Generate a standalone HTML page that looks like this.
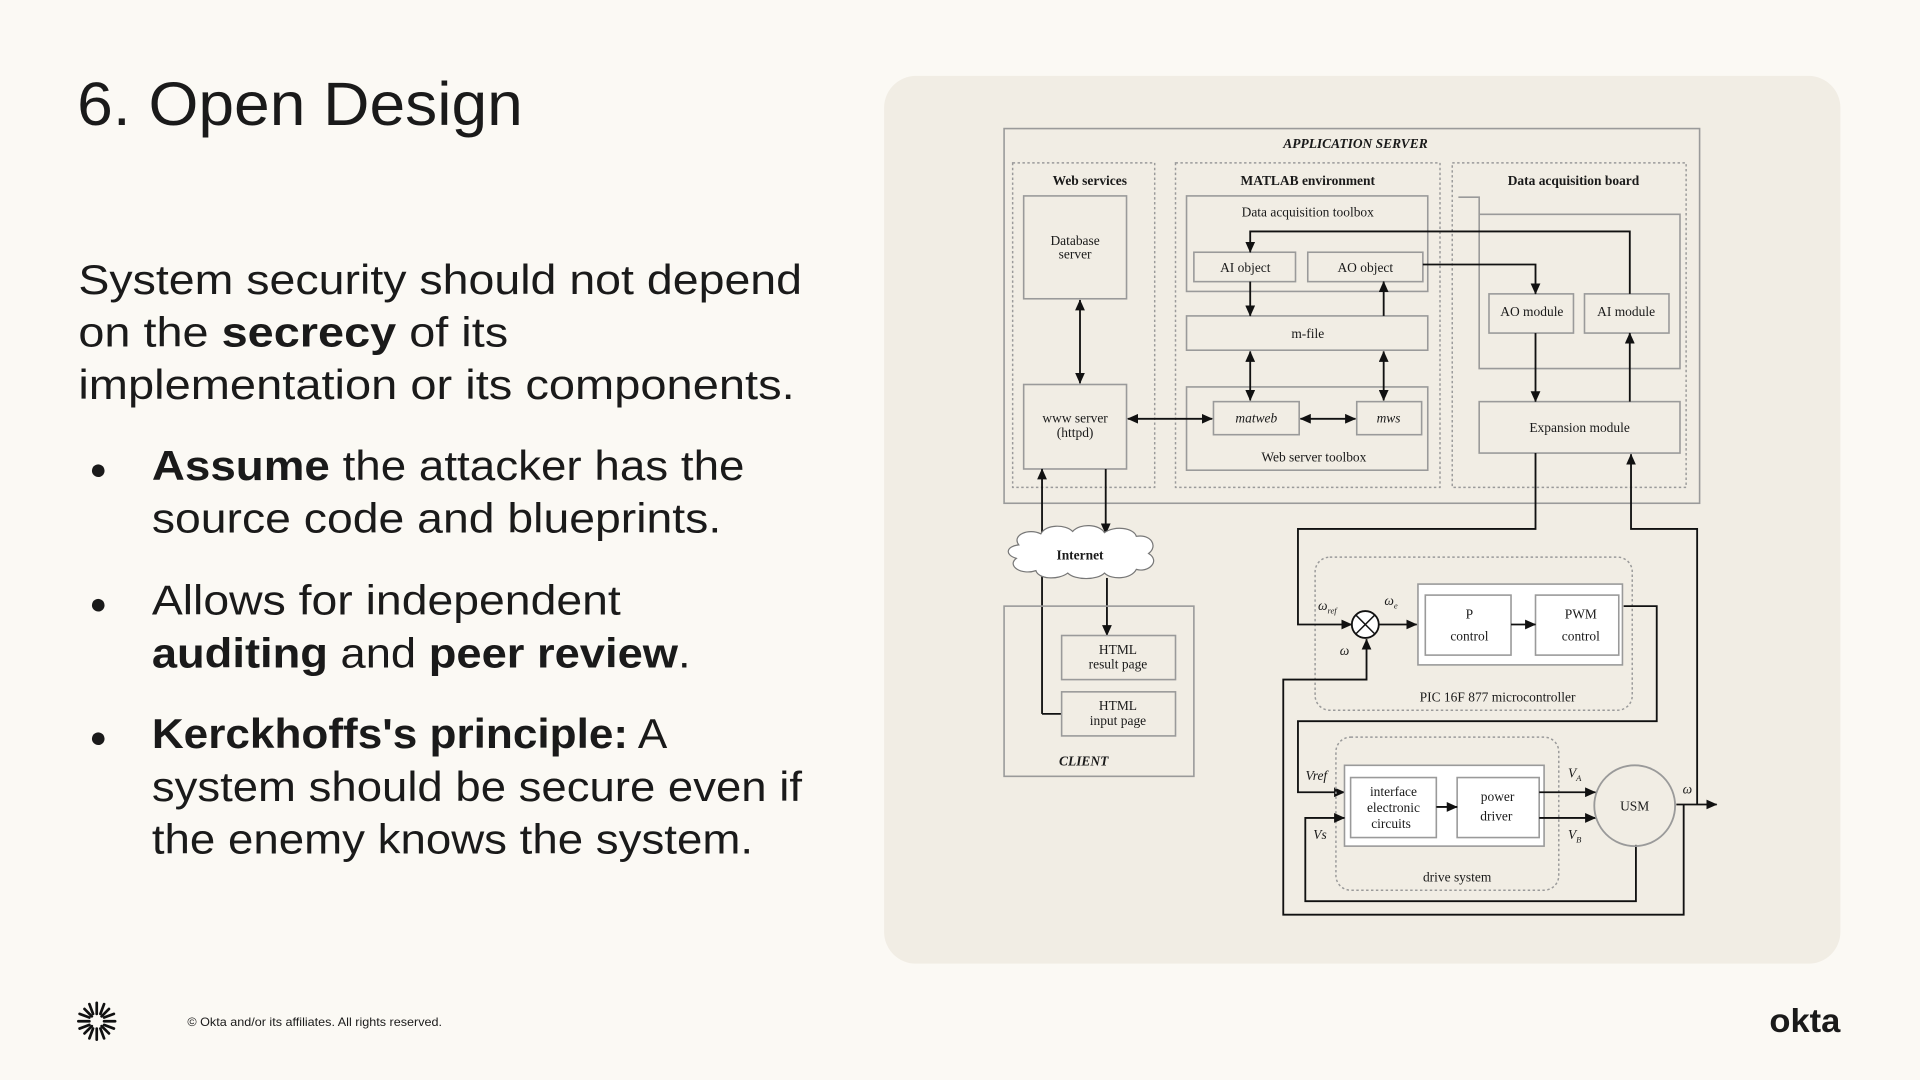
<!DOCTYPE html>
<html><head><meta charset="utf-8"><style>
html,body{margin:0;padding:0;background:#fbf9f4;}
svg{display:block;}
.t{font-family:"Liberation Sans",sans-serif;fill:#1a1a1a;}
.d{font-family:"Liberation Serif",serif;fill:#1a1a1a;font-size:11px;text-anchor:middle;}
.g{fill:none;stroke:#9a9a9a;stroke-width:1.3;}
.gd{fill:none;stroke:#9a9a9a;stroke-width:1.2;stroke-dasharray:2 2;}
.k{fill:none;stroke:#111;stroke-width:1.5;}
.wb{fill:#fff;stroke:#9a9a9a;stroke-width:1.3;}
</style></head><body>
<svg width="1920" height="1080" viewBox="0 0 1568 882" preserveAspectRatio="none" xmlns="http://www.w3.org/2000/svg">
<defs>
<marker id="a" markerWidth="9" markerHeight="8" refX="8.5" refY="4" orient="auto" markerUnits="userSpaceOnUse"><path d="M0,0 L9,4 L0,8 z" fill="#111"/></marker>
<marker id="s" markerWidth="9" markerHeight="8" refX="0.5" refY="4" orient="auto" markerUnits="userSpaceOnUse"><path d="M9,0 L0,4 L9,8 z" fill="#111"/></marker>
</defs>
<rect width="1568" height="882" fill="#fbf9f4"/>
<text class="t" x="63" y="102" font-size="50" textLength="364" lengthAdjust="spacingAndGlyphs">6. Open Design</text>
<g class="t" font-size="34">
<text x="64" y="240" textLength="591" lengthAdjust="spacingAndGlyphs">System security should not depend</text>
<text x="64" y="283" textLength="351" lengthAdjust="spacingAndGlyphs">on the <tspan font-weight="bold">secrecy</tspan> of its</text>
<text x="64" y="326" textLength="585" lengthAdjust="spacingAndGlyphs">implementation or its components.</text>
<text x="73" y="391" font-size="24">●</text>
<text x="124" y="392" textLength="484" lengthAdjust="spacingAndGlyphs"><tspan font-weight="bold">Assume</tspan> the attacker has the</text>
<text x="124" y="435" textLength="465" lengthAdjust="spacingAndGlyphs">source code and blueprints.</text>
<text x="73" y="501" font-size="24">●</text>
<text x="124" y="502" textLength="383" lengthAdjust="spacingAndGlyphs">Allows for independent</text>
<text x="124" y="545" textLength="440" lengthAdjust="spacingAndGlyphs"><tspan font-weight="bold">auditing</tspan> and <tspan font-weight="bold">peer review</tspan>.</text>
<text x="73" y="610" font-size="24">●</text>
<text x="124" y="611" textLength="421" lengthAdjust="spacingAndGlyphs"><tspan font-weight="bold">Kerckhoffs's principle:</tspan> A</text>
<text x="124" y="654" textLength="531" lengthAdjust="spacingAndGlyphs">system should be secure even if</text>
<text x="124" y="697" textLength="491" lengthAdjust="spacingAndGlyphs">the enemy knows the system.</text>
</g>
<rect x="722" y="62" width="781" height="725" rx="26" fill="#f1ede4"/>
<!-- diagram -->
<rect class="g" x="820" y="105" width="568" height="306"/>
<text class="d" x="1107" y="121" font-style="italic" font-weight="bold" font-size="12.5">APPLICATION SERVER</text>
<rect class="gd" x="827" y="133" width="116" height="265"/>
<text class="d" x="890" y="151" font-weight="bold">Web services</text>
<rect class="g" x="836" y="160" width="84" height="84"/>
<text class="d" x="878" y="200">Database</text><text class="d" x="878" y="211">server</text>
<rect class="g" x="836" y="314" width="84" height="69"/>
<text class="d" x="878" y="345">www server</text><text class="d" x="878" y="357">(httpd)</text>
<rect class="gd" x="960" y="133" width="216" height="265"/>
<text class="d" x="1068" y="151" font-weight="bold">MATLAB environment</text>
<rect class="g" x="969" y="160" width="197" height="78"/>
<text class="d" x="1068" y="177">Data acquisition toolbox</text>
<rect class="g" x="975" y="206" width="83" height="24"/><text class="d" x="1017" y="222">AI object</text>
<rect class="g" x="1068" y="206" width="94" height="24"/><text class="d" x="1115" y="222">AO object</text>
<rect class="g" x="969" y="258" width="197" height="28"/><text class="d" x="1068" y="276">m-file</text>
<rect class="g" x="969" y="316" width="197" height="68"/>
<rect class="g" x="991" y="328" width="70" height="27"/><text class="d" x="1026" y="345" font-style="italic">matweb</text>
<rect class="g" x="1108" y="328" width="53" height="27"/><text class="d" x="1134" y="345" font-style="italic">mws</text>
<text class="d" x="1073" y="377">Web server toolbox</text>
<rect class="gd" x="1186" y="133" width="191" height="265"/>
<text class="d" x="1285" y="151" font-weight="bold">Data acquisition board</text>
<path class="g" d="M1191,161 H1208 V301 H1372 V175 H1208"/>
<rect class="g" x="1216" y="240" width="69" height="32"/><text class="d" x="1251" y="258">AO module</text>
<rect class="g" x="1294" y="240" width="69" height="32"/><text class="d" x="1328" y="258">AI module</text>
<rect class="g" x="1208" y="328" width="164" height="42"/><text class="d" x="1290" y="353">Expansion module</text>
<path class="k" d="M1331,240 V189 H1021 V206" marker-end="url(#a)"/>
<path class="k" d="M1162,216 H1254 V240" marker-end="url(#a)"/>
<path class="k" d="M1254,272 V328" marker-end="url(#a)"/>
<path class="k" d="M1331,328 V272" marker-end="url(#a)"/>
<path class="k" d="M1021,230 V258" marker-end="url(#a)"/>
<path class="k" d="M1130,258 V230" marker-end="url(#a)"/>
<path class="k" d="M1021,287 V327" marker-start="url(#s)" marker-end="url(#a)"/>
<path class="k" d="M1130,287 V327" marker-start="url(#s)" marker-end="url(#a)"/>
<path class="k" d="M921,342 H990" marker-start="url(#s)" marker-end="url(#a)"/>
<path class="k" d="M1062,342 H1107" marker-start="url(#s)" marker-end="url(#a)"/>
<path class="k" d="M882,245 V313" marker-start="url(#s)" marker-end="url(#a)"/>
<path class="k" d="M851,583 H851 V383" marker-end="url(#a)"/>
<path class="k" d="M867,583 H851"/>
<path class="k" d="M903,383 V436" marker-end="url(#a)"/>
<path class="k" d="M904,472 V519" marker-end="url(#a)"/>
<path d="M832,445 C826,437 840,431 850,436 C854,428 870,428 876,434 C882,427 898,428 902,435 C910,429 926,431 928,438 C940,436 946,446 938,452 C948,458 938,468 928,465 C924,473 908,474 902,468 C896,474 878,474 872,468 C864,474 848,473 846,466 C834,470 822,462 830,456 C820,453 822,446 832,445 Z" fill="#fff" stroke="#777" stroke-width="1"/>
<text class="d" x="882" y="457" font-weight="bold">Internet</text>
<rect class="g" x="820" y="495" width="155" height="139"/>
<rect class="g" x="867" y="519" width="93" height="36"/>
<text class="d" x="913" y="534">HTML</text><text class="d" x="913" y="546">result page</text>
<rect class="g" x="867" y="565" width="93" height="36"/>
<text class="d" x="913" y="580">HTML</text><text class="d" x="913" y="592">input page</text>
<text class="d" x="885" y="625" font-style="italic" font-weight="bold" font-size="12">CLIENT</text>
<rect class="gd" x="1074" y="455" width="259" height="125" rx="12" stroke-width="2"/>
<rect class="wb" x="1158" y="477" width="167" height="66"/>
<rect class="g" x="1164" y="486" width="70" height="49"/>
<text class="d" x="1200" y="505">P</text><text class="d" x="1200" y="523">control</text>
<rect class="g" x="1254" y="486" width="68" height="49"/>
<text class="d" x="1291" y="505">PWM</text><text class="d" x="1291" y="523">control</text>
<path class="k" d="M1234,510 H1254" marker-end="url(#a)"/>
<text class="d" x="1223" y="573">PIC 16F  877     microcontroller</text>
<path class="k" d="M1254,370 V432 H1060 V510 H1104" marker-end="url(#a)"/>
<circle cx="1115" cy="510" r="11" fill="#fff" stroke="#111" stroke-width="1.5"/>
<path d="M1107,502 L1123,518 M1123,502 L1107,518" stroke="#111" stroke-width="1.2"/>
<path class="k" d="M1126,510 H1157" marker-end="url(#a)"/>
<path class="k" d="M1369,657 H1402" marker-end="url(#a)"/>
<path class="k" d="M1386,657 V432 H1332 V371" marker-end="url(#a)"/>
<path class="k" d="M1375,657 V747 H1048 V555 H1116 V522" marker-end="url(#a)"/>
<path class="k" d="M1326,495 H1353 V589 H1060 V647 H1098" marker-end="url(#a)"/>
<rect class="gd" x="1091" y="602" width="182" height="125" rx="12" stroke-width="2"/>
<rect class="wb" x="1098" y="625" width="163" height="66"/>
<rect class="g" x="1103" y="635" width="70" height="49"/>
<text class="d" x="1138" y="650">interface</text><text class="d" x="1138" y="663">electronic</text><text class="d" x="1136" y="676">circuits</text>
<rect class="g" x="1190" y="635" width="67" height="49"/>
<text class="d" x="1223" y="654">power</text><text class="d" x="1222" y="670">driver</text>
<path class="k" d="M1173,659 H1190" marker-end="url(#a)"/>
<text class="d" x="1190" y="720">drive system</text>
<path class="k" d="M1336,690 V736 H1066 V668 H1098" marker-end="url(#a)"/>
<path class="k" d="M1257,647 H1303" marker-end="url(#a)"/>
<path class="k" d="M1257,668 H1303" marker-end="url(#a)"/>
<ellipse cx="1335" cy="658" rx="33" ry="33" fill="none" stroke="#9a9a9a" stroke-width="1.5"/>
<text class="d" x="1335" y="662" font-size="12">USM</text>
<g class="d" font-style="italic">
<text x="1084" y="498">ω<tspan font-size="7" dy="3">ref</tspan></text>
<text x="1136" y="494">ω<tspan font-size="7" dy="3">e</tspan></text>
<text x="1098" y="535">ω</text>
<text x="1075" y="637">Vref</text>
<text x="1078" y="685">Vs</text>
<text x="1286" y="635">V<tspan font-size="7" dy="3">A</tspan></text>
<text x="1286" y="685">V<tspan font-size="7" dy="3">B</tspan></text>
<text x="1378" y="648">ω</text>
</g>
<g stroke="#111" stroke-width="2.2" stroke-linecap="round">
<line x1="85" y1="834" x2="94" y2="834"/><line x1="64" y1="834" x2="73" y2="834"/>
<line x1="79" y1="828" x2="79" y2="819"/><line x1="79" y1="840" x2="79" y2="849"/>
<line x1="83" y1="830" x2="89" y2="824"/><line x1="75" y1="838" x2="69" y2="844"/>
<line x1="83" y1="838" x2="89" y2="844"/><line x1="75" y1="830" x2="69" y2="824"/>
<line x1="85" y1="831" x2="93" y2="828"/><line x1="73" y1="837" x2="65" y2="840"/>
<line x1="85" y1="837" x2="93" y2="840"/><line x1="73" y1="831" x2="65" y2="828"/>
<line x1="82" y1="828" x2="85" y2="820"/><line x1="76" y1="840" x2="73" y2="848"/>
<line x1="82" y1="840" x2="85" y2="848"/><line x1="76" y1="828" x2="73" y2="820"/>
</g>
<text class="t" x="153" y="838" font-size="10" textLength="208" lengthAdjust="spacingAndGlyphs">© Okta and/or its affiliates. All rights reserved.</text>
<text class="t" x="1445" y="843" font-size="27" font-weight="bold" textLength="58" lengthAdjust="spacingAndGlyphs">okta</text>
</svg>
</body></html>
